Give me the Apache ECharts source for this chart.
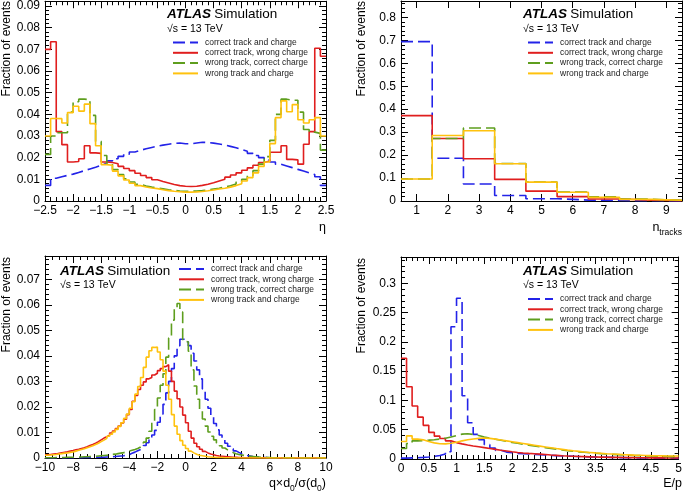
<!DOCTYPE html>
<html>
<head>
<meta charset="utf-8">
<script src="https://cdn.jsdelivr.net/npm/echarts@6/dist/echarts.min.js"></script>
<style>
html,body{margin:0;padding:0;background:#fff;}
#chart{width:685px;height:497px;}
</style>
</head>
<body>
<div id="chart"></div>
<script>
// ---------------- DATA ----------------
const seriesNames = ['correct track and charge', 'correct track, wrong charge', 'wrong track, correct charge', 'wrong track and charge'];

// Panel 1: eta, 50 bins from -2.5, width 0.1
const etaStart = -2.5, etaWidth = 0.1;
const etaBlue = [0.0072,0.0105,0.0112,0.0118,0.0124,0.0132,0.0140,0.0148,0.0156,0.0165,
  0.0174,0.0185,0.0195,0.0206,0.0216,0.0226,0.0234,0.0241,0.0247,0.0253,
  0.0258,0.0262,0.0266,0.0268,0.0264,0.0264,0.0268,0.0271,0.0270,0.0267,
  0.0263,0.0258,0.0252,0.0246,0.0238,0.0230,0.0220,0.0210,0.0200,0.0190,
  0.0180,0.0170,0.0162,0.0154,0.0146,0.0138,0.0130,0.0122,0.0112,0.0072];
const etaRed = [0.0700,0.0735,0.0320,0.0260,0.0180,0.0182,0.0195,0.0255,0.0222,0.0220,
  0.0180,0.0178,0.0172,0.0160,0.0150,0.0140,0.0128,0.0118,0.0108,0.0098,
  0.0090,0.0083,0.0076,0.0071,0.0068,0.0067,0.0068,0.0072,0.0077,0.0084,
  0.0092,0.0100,0.0110,0.0120,0.0130,0.0142,0.0153,0.0165,0.0178,0.0185,
  0.0225,0.0225,0.0255,0.0192,0.0190,0.0170,0.0262,0.0320,0.0705,0.0668];
const etaGreen = [0.0215,0.0300,0.0315,0.0315,0.0410,0.0458,0.0470,0.0468,0.0395,0.0275,
  0.0210,0.0172,0.0145,0.0122,0.0102,0.0088,0.0077,0.0069,0.0064,0.0060,
  0.0056,0.0052,0.0049,0.0046,0.0045,0.0045,0.0046,0.0048,0.0051,0.0055,
  0.0059,0.0064,0.0070,0.0078,0.0088,0.0100,0.0118,0.0140,0.0170,0.0205,
  0.0280,0.0400,0.0470,0.0465,0.0465,0.0410,0.0330,0.0318,0.0312,0.0235];
const etaYellow = [0.0300,0.0381,0.0380,0.0360,0.0408,0.0437,0.0415,0.0447,0.0357,0.0255,
  0.0168,0.0165,0.0138,0.0116,0.0097,0.0082,0.0071,0.0065,0.0060,0.0057,
  0.0052,0.0048,0.0045,0.0043,0.0041,0.0041,0.0042,0.0044,0.0047,0.0051,
  0.0055,0.0059,0.0064,0.0071,0.0080,0.0092,0.0108,0.0130,0.0160,0.0180,
  0.0265,0.0385,0.0462,0.0412,0.0445,0.0375,0.0360,0.0375,0.0385,0.0300];

// Panel 2: number of tracks, 9 bins from 0.5, width 1
const ntrkStart = 0.5, ntrkWidth = 1;
const ntrkLabels = [1,2,3,4,5,6,7,8,9];
const ntrkBlue   = [0.694,0.186,0.074,0.024,0.010,0.004,0.002,0.001,0.0005];
const ntrkRed    = [0.372,0.272,0.184,0.094,0.043,0.019,0.009,0.004,0.0015];
const ntrkGreen  = [0.096,0.272,0.318,0.163,0.082,0.039,0.018,0.008,0.003];
const ntrkYellow = [0.096,0.285,0.306,0.162,0.082,0.038,0.016,0.007,0.003];

// Panel 3: q x d0 / sigma(d0), 100 bins from -10, width 0.2
const d0Start = -10, d0Width = 0.2;
const d0Blue = [0.0001,0.0001,0.0001,0.0001,0.0001,0.0001,0.0001,0.0001,0.0001,0.0001,
  0.0001,0.0001,0.0001,0.0002,0.0002,0.0002,0.0002,0.0002,0.0003,0.0003,
  0.0003,0.0004,0.0004,0.0005,0.0006,0.0007,0.0008,0.0009,0.0011,0.0013,
  0.0019,0.0023,0.0028,0.0033,0.0040,0.0049,0.0060,0.0074,0.0090,0.0108,
  0.0140,0.0172,0.0210,0.0255,0.0300,0.0350,0.0400,0.0440,0.0465,0.0465,
  0.0455,0.0440,0.0410,0.0380,0.0345,0.0310,0.0270,0.0230,0.0195,0.0162,
  0.0135,0.0110,0.0090,0.0073,0.0058,0.0046,0.0036,0.0028,0.0022,0.0017,
  0.0013,0.0010,0.0008,0.0006,0.0005,0.0004,0.0003,0.0002,0.0002,0.0001,
  0.0001,0.0001,0.0001,0.0001,0.0001,0.0001,0,0,0,0,
  0,0,0,0,0,0,0,0,0,0];
const d0Red = [0.0013,0.0014,0.0015,0.0016,0.0018,0.0020,0.0022,0.0024,0.0027,0.0029,
  0.0032,0.0034,0.0037,0.0040,0.0044,0.0049,0.0053,0.0058,0.0064,0.0071,
  0.0078,0.0083,0.0090,0.0098,0.0106,0.0115,0.0125,0.0137,0.0152,0.0170,
  0.0190,0.0222,0.0245,0.0268,0.0285,0.0298,0.0310,0.0315,0.0325,0.0332,
  0.0342,0.0350,0.0358,0.0365,0.0340,0.0300,0.0262,0.0232,0.0200,0.0168,
  0.0138,0.0105,0.0078,0.0058,0.0044,0.0034,0.0026,0.0020,0.0016,0.0013,
  0.0010,0.0008,0.0007,0.0006,0.0005,0.0004,0.0003,0.0003,0.0002,0.0002,
  0.0001,0.0001,0.0001,0.0001,0.0001,0.0001,0.0001,0.0001,0,0,
  0,0,0,0,0,0,0,0,0,0,
  0,0,0,0,0,0,0,0,0,0];
const d0Green = [0.0001,0.0001,0.0001,0.0002,0.0002,0.0002,0.0002,0.0003,0.0003,0.0003,
  0.0003,0.0004,0.0004,0.0005,0.0005,0.0006,0.0006,0.0007,0.0008,0.0009,
  0.0010,0.0011,0.0012,0.0014,0.0015,0.0017,0.0019,0.0021,0.0024,0.0027,
  0.0030,0.0033,0.0037,0.0043,0.0050,0.0062,0.0078,0.0105,0.0145,0.0190,
  0.0235,0.0285,0.0330,0.0395,0.0470,0.0540,0.0590,0.0605,0.0572,0.0457,
  0.0454,0.0418,0.0345,0.0282,0.0230,0.0187,0.0153,0.0125,0.0102,0.0085,
  0.0071,0.0059,0.0048,0.0039,0.0032,0.0026,0.0021,0.0017,0.0014,0.0012,
  0.0010,0.0008,0.0007,0.0006,0.0005,0.0004,0.0003,0.0003,0.0002,0.0002,
  0.0001,0.0001,0.0001,0.0001,0.0001,0.0001,0.0001,0,0,0,
  0,0,0,0,0,0,0,0,0,0];
const d0Yellow = [0.0011,0.0012,0.0013,0.0014,0.0016,0.0017,0.0019,0.0020,0.0022,0.0024,
  0.0027,0.0030,0.0033,0.0036,0.0040,0.0044,0.0048,0.0053,0.0058,0.0064,
  0.0070,0.0077,0.0085,0.0093,0.0102,0.0112,0.0124,0.0138,0.0155,0.0172,
  0.0195,0.0220,0.0250,0.0280,0.0315,0.0355,0.0395,0.0420,0.0433,0.0434,
  0.0415,0.0385,0.0340,0.0285,0.0230,0.0170,0.0125,0.0093,0.0068,0.0050,
  0.0037,0.0027,0.0020,0.0015,0.0011,0.0009,0.0007,0.0005,0.0004,0.0003,
  0.0002,0.0002,0.0002,0.0001,0.0001,0.0001,0.0001,0,0,0,
  0,0,0,0,0,0,0,0,0,0,
  0,0,0,0,0,0,0,0,0,0,
  0,0,0,0,0,0,0,0,0,0];

// Panel 4: E/p, 50 bins from 0, width 0.1
const epStart = 0, epWidth = 0.1;
const epBlue = [0.0015,0.0020,0.0022,0.0028,0.0035,0.0045,0.0060,0.0085,0.0125,0.2260,
  0.2745,0.1080,0.0620,0.0420,0.0330,0.0245,0.0185,0.0148,0.0118,0.0108,
  0.0095,0.0090,0.0085,0.0078,0.0074,0.0068,0.0063,0.0058,0.0054,0.0050,
  0.0046,0.0043,0.0040,0.0037,0.0034,0.0031,0.0029,0.0027,0.0025,0.0023,
  0.0021,0.0020,0.0018,0.0017,0.0016,0.0015,0.0014,0.0013,0.0012,0.0011];
const epRed = [0.1720,0.1235,0.0905,0.0715,0.0575,0.0455,0.0390,0.0350,0.0310,0.0280,
  0.0258,0.0238,0.0222,0.0208,0.0194,0.0180,0.0165,0.0150,0.0137,0.0124,
  0.0112,0.0103,0.0096,0.0090,0.0083,0.0076,0.0068,0.0062,0.0056,0.0051,
  0.0047,0.0043,0.0040,0.0037,0.0034,0.0032,0.0030,0.0028,0.0027,0.0025,
  0.0024,0.0023,0.0022,0.0021,0.0020,0.0019,0.0019,0.0018,0.0018,0.0017];
const epGreen = [0.0180,0.0265,0.0310,0.0315,0.0322,0.0330,0.0340,0.0355,0.0375,0.0400,
  0.0425,0.0430,0.0420,0.0400,0.0375,0.0355,0.0338,0.0320,0.0300,0.0283,
  0.0268,0.0252,0.0237,0.0222,0.0208,0.0195,0.0182,0.0168,0.0155,0.0142,
  0.0132,0.0122,0.0114,0.0106,0.0098,0.0091,0.0085,0.0079,0.0074,0.0069,
  0.0064,0.0060,0.0057,0.0054,0.0051,0.0048,0.0045,0.0043,0.0041,0.0040];
const epYellow = [0.0300,0.0395,0.0340,0.0327,0.0300,0.0275,0.0260,0.0258,0.0268,0.0285,
  0.0310,0.0330,0.0342,0.0352,0.0358,0.0352,0.0340,0.0325,0.0310,0.0295,
  0.0280,0.0265,0.0250,0.0235,0.0220,0.0205,0.0192,0.0178,0.0165,0.0152,
  0.0140,0.0130,0.0120,0.0112,0.0104,0.0097,0.0090,0.0085,0.0080,0.0075,
  0.0071,0.0067,0.0064,0.0061,0.0058,0.0056,0.0054,0.0052,0.0051,0.0050];

// ---------------- STYLE ----------------
const FONT = 'Liberation Sans, Arial, Helvetica, sans-serif';
const colors = ['#2323e8', '#e01e1e', '#5e9e1e', '#ffc20e'];
const dashes = [[12, 5], 'solid', [12, 5], 'solid'];

const panels = [
  {grid:{left:45, top:1, width:281, height:200}, xmin:-2.5, xmax:2.5, xint:0.5, xminor:5,
   ymax:0.0922, yint:0.01, yminor:5,
   data:[etaBlue, etaRed, etaGreen, etaYellow], start:etaStart, width:etaWidth},
  {grid:{left:401, top:1, width:281, height:200}, xmin:0.5, xmax:9.5, xcustom:ntrkLabels,
   ymax:0.871, yint:0.1, yminor:5,
   data:[ntrkBlue, ntrkRed, ntrkGreen, ntrkYellow], start:ntrkStart, width:ntrkWidth},
  {grid:{left:45, top:256, width:281, height:202}, xmin:-10, xmax:10, xint:2, xminor:4,
   ymax:0.0791, yint:0.01, yminor:5,
   data:[d0Blue, d0Red, d0Green, d0Yellow], start:d0Start, width:d0Width},
  {grid:{left:401, top:257, width:281, height:202}, xmin:0, xmax:5, xint:0.5, xminor:5,
   ymax:0.345, yint:0.05, yminor:5,
   data:[epBlue, epRed, epGreen, epYellow], start:epStart, width:epWidth}
];

function stepPoints(start, width, vals) {
  const pts = vals.map((v, i) => [start + i * width, v]);
  pts.push([start + vals.length * width, vals[vals.length - 1]]);
  return pts;
}
function fmt(v) {
  const s = String(+(+v).toFixed(6));
  return s.replace('-', '\u2212');
}

const axisLine = {show:true, onZero:false, lineStyle:{color:'#000', width:1}};
const grids = [], xAxes = [], yAxes = [], series = [];
panels.forEach((p, k) => {
  grids.push(Object.assign({containLabel:false}, p.grid));
});
function xAxisDef(p, k, top) {
  const a = {
    type:'value', gridIndex:k, position: top ? 'top' : 'bottom',
    min:p.xmin, max:p.xmax, axisLine:axisLine, splitLine:{show:false},
    axisTick:{show:true, inside:true, length:7, lineStyle:{color:'#000', width:1}},
    axisLabel:{show:!top, color:'#000', fontSize:12, fontFamily:FONT, margin:4, formatter:fmt,
               showMinLabel:true, showMaxLabel:true}
  };
  if (p.xcustom) {
    a.axisTick.customValues = p.xcustom;
    a.axisLabel.customValues = p.xcustom;
  } else {
    a.interval = p.xint;
    a.minorTick = {show:true, splitNumber:p.xminor, length:4, lineStyle:{color:'#000', width:1}};
  }
  return a;
}
function yAxisDef(p, k, right) {
  return {
    type:'value', gridIndex:k, position: right ? 'right' : 'left',
    min:0, max:p.ymax, interval:p.yint, axisLine:axisLine, splitLine:{show:false},
    axisTick:{show:true, inside:true, length:7, lineStyle:{color:'#000', width:1}},
    minorTick:{show:true, splitNumber:p.yminor, length:4, lineStyle:{color:'#000', width:1}},
    axisLabel:{show:!right, color:'#000', fontSize:12, fontFamily:FONT, margin:5, formatter:fmt,
               showMaxLabel:false}
  };
}
panels.forEach((p, k) => { xAxes.push(xAxisDef(p, k, false)); yAxes.push(yAxisDef(p, k, false)); });
panels.forEach((p, k) => { xAxes.push(xAxisDef(p, k, true)); yAxes.push(yAxisDef(p, k, true)); });

panels.forEach((p, k) => {
  p.data.forEach((vals, s) => {
    series.push({
      type:'line', name:seriesNames[s], xAxisIndex:k, yAxisIndex:k,
      step:'end', symbol:'none', showSymbol:false, silent:true, z: 2 + s,
      lineStyle:{color:colors[s], width:1.6, type:dashes[s]},
      itemStyle:{color:colors[s]},
      data: stepPoints(p.start, p.width, vals)
    });
  });
});

const legendPos = [[172, 37.5], [527, 37.5], [178, 264], [527, 294]];
const legends = legendPos.map(([l, t]) => ({
  left:l, top:t, orient:'vertical', padding:0, itemWidth:25, itemHeight:10, itemGap:0.3,
  selectedMode:false, data:seriesNames,
  itemStyle:{opacity:0, borderWidth:0},
  textStyle:{fontSize:8.5, fontFamily:FONT, color:'#222', padding:[0,0,0,2], lineHeight:10}
}));

const atlasRich = {
  a:{fontFamily:FONT, fontSize:13.5, fontWeight:'bold', fontStyle:'italic', fill:'#000', color:'#000'},
  b:{fontFamily:FONT, fontSize:13.5, fill:'#000', color:'#000'}
};
const subRich = {
  m:{fontFamily:FONT, fontSize:12.5, color:'#000'},
  s:{fontFamily:FONT, fontSize:8.5, color:'#000', padding:[10,0,0,0]}
};
function txt(x, y, text, opts) {
  return Object.assign({type:'text', x:x, y:y, silent:true,
    style:Object.assign({text:text, fontFamily:FONT, fontSize:12, fill:'#000', align:'left', verticalAlign:'middle'}, opts || {})});
}
const atlasPos = [[167, 14], [523, 14], [60, 271], [523, 271]];
const sqrtPos = [[167, 29], [523, 29], [60, 285], [523, 285]];
const graphics = [];
atlasPos.forEach(([x, y]) => graphics.push(txt(x, y, '{a|ATLAS} {b|Simulation}', {rich:atlasRich})));
sqrtPos.forEach(([x, y]) => graphics.push(txt(x, y, '\u221As = 13 TeV', {fontSize:10.5})));
// y titles
[[7, 1], [362, 1], [7, 257], [362, 258]].forEach(([x, y]) => {
  const t = txt(x, y, 'Fraction of events', {align:'right', fontSize:12});
  t.rotation = Math.PI / 2;
  graphics.push(t);
});
// x titles
graphics.push(txt(326, 228, '\u03B7', {align:'right', fontSize:12.5}));
graphics.push(txt(682, 228, '{m|n}{s|tracks}', {align:'right', rich:subRich}));
graphics.push(txt(326, 484, '{m|q\u00D7d}{s|0}{m|/\u03C3(d}{s|0}{m|)}', {align:'right', rich:subRich}));
graphics.push(txt(682, 484, 'E/p', {align:'right', fontSize:12.5}));

const chart = echarts.init(document.getElementById('chart'), null, {renderer:'canvas'});
chart.setOption({
  animation:false,
  backgroundColor:'#fff',
  grid:grids, xAxis:xAxes, yAxis:yAxes, series:series,
  legend:legends,
  graphic:graphics
});
</script>
</body>
</html>
